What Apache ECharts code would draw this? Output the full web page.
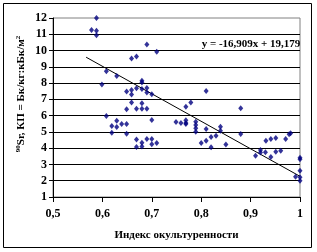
<!DOCTYPE html>
<html>
<head>
<meta charset="utf-8">
<script src="https://cdn.jsdelivr.net/npm/echarts@6/dist/echarts.min.js"></script>
<style>html,body{margin:0;padding:0;background:#fff;}#c{width:317px;height:252px;}</style>
</head>
<body>
<div id="c"></div>
<script>
// Index of cultivation (x) and 90Sr transfer factor (y)
var xValues = [0.588,0.578,0.588,0.588,0.690,0.710,0.669,0.659,0.608,0.629,0.680,0.680,0.599,
  0.649,0.659,0.659,0.669,0.680,0.690,0.690,0.700,
  0.659,0.680,0.649,0.669,0.680,0.690,0.608,0.700,0.629,0.639,0.649,0.619,0.629,0.619,0.649,
  0.669,0.690,0.700,0.680,0.710,0.700,0.669,0.680,
  0.749,0.759,0.769,0.769,0.769,0.769,0.779,0.810,0.789,0.789,0.789,0.789,0.810,0.839,0.839,
  0.810,0.820,0.830,0.800,0.820,0.850,0.880,0.880,
  0.910,0.920,0.920,0.930,0.941,0.951,0.961,0.931,0.941,0.951,0.971,0.981,0.978,
  1.0,1.0,1.0,0.991,1.0,1.0];
var yValues = [12.0,11.26,11.22,10.94,10.37,9.92,9.64,9.51,8.73,8.44,8.14,8.03,7.91,
  7.49,7.58,7.30,7.68,7.64,7.70,7.42,7.31,
  6.80,6.76,6.40,6.42,6.42,6.42,5.98,5.73,5.68,5.49,5.49,5.36,5.30,4.95,4.89,
  4.54,4.56,4.56,4.34,4.32,4.24,4.07,4.11,
  5.61,5.55,5.71,5.55,5.49,6.55,6.80,7.52,5.63,5.42,5.22,5.01,5.18,5.32,5.07,
  4.46,4.68,4.76,4.32,4.05,4.22,6.45,4.87,
  3.54,3.89,3.73,3.75,3.46,3.78,3.84,4.46,4.56,4.62,4.56,4.91,4.86,
  3.41,3.32,2.62,2.25,2.21,2.0];
// Trendline (from the equation printed on the chart)
var trendSlope = -16.909;
var trendIntercept = 19.179;
var trendXRange = [0.567, 1.0];
var trendLabel = 'y = -16,909x + 19,179';
var xAxisTitle = 'Индекс окультуренности';
var yAxisTitleParts = ['90', 'Sr, КП = Бк/кг:кБк/м', '2'];

var points = xValues.map(function(x, i){ return [x, yValues[i]]; });
var trend = trendXRange.map(function(x){ return [x, trendSlope * x + trendIntercept]; });

var serif = '"Liberation Serif", "Times New Roman", serif';
var chart = echarts.init(document.getElementById('c'), null, {renderer: 'canvas'});
chart.setOption({
  animation: false,
  backgroundColor: '#fff',
  grid: {left: 53, top: 18, width: 247, height: 179, show: true, borderColor: '#808080', borderWidth: 1, backgroundColor: 'transparent'},
  xAxis: {
    type: 'value', min: 0.5, max: 1, interval: 0.1,
    axisLine: {show: true, onZero: false, lineStyle: {color: '#000', width: 1}},
    axisTick: {show: true, length: 5, lineStyle: {color: '#000'}},
    splitLine: {show: false},
    axisLabel: {margin: 11, color: '#000', fontFamily: serif, fontWeight: 'bold', fontSize: 12,
      formatter: function(v){ return String(+v.toFixed(1)).replace('.', ','); }},
    name: xAxisTitle, nameLocation: 'middle', nameGap: 33,
    nameTextStyle: {color: '#000', fontFamily: serif, fontWeight: 'bold', fontSize: 11}
  },
  yAxis: {
    type: 'value', min: 1, max: 12, interval: 1,
    axisLine: {show: true, lineStyle: {color: '#000', width: 1}},
    axisTick: {show: true, length: 4, lineStyle: {color: '#000'}},
    splitLine: {show: true, showMaxLine: false, lineStyle: {color: '#000', width: 1}},
    axisLabel: {margin: 6, color: '#000', fontFamily: serif, fontWeight: 'bold', fontSize: 12}
  },
  graphic: [
    {type: 'rect', shape: {x: 3.5, y: 3.5, width: 308, height: 244}, style: {fill: 'none', stroke: '#000', lineWidth: 1}, silent: true, z: 100},
    {type: 'text', x: 21, y: 94, rotation: Math.PI / 2,
      style: {
        text: '{s|' + yAxisTitleParts[0] + '}{b|' + yAxisTitleParts[1] + '}{s|' + yAxisTitleParts[2] + '}',
        align: 'center', verticalAlign: 'middle', fill: '#000',
        rich: {
          s: {fontFamily: serif, fontWeight: 'bold', fontSize: 7, verticalAlign: 'top', padding: [0, 0, 6, 0], fill: '#000'},
          b: {fontFamily: serif, fontWeight: 'bold', fontSize: 11, fill: '#000'}
        }
      }, z: 100},
    {type: 'text', x: 251, y: 44,
      style: {text: trendLabel, align: 'center', verticalAlign: 'middle', fill: '#000',
        font: 'bold 11px ' + serif}, z: 100}
  ],
  series: [
    {type: 'scatter', data: points, symbol: 'diamond', symbolSize: [5, 6],
      itemStyle: {color: '#000080'}, z: 3},
    {type: 'line', data: trend, symbol: 'none', lineStyle: {color: '#000', width: 1}, z: 2}
  ]
});
</script>
</body>
</html>
